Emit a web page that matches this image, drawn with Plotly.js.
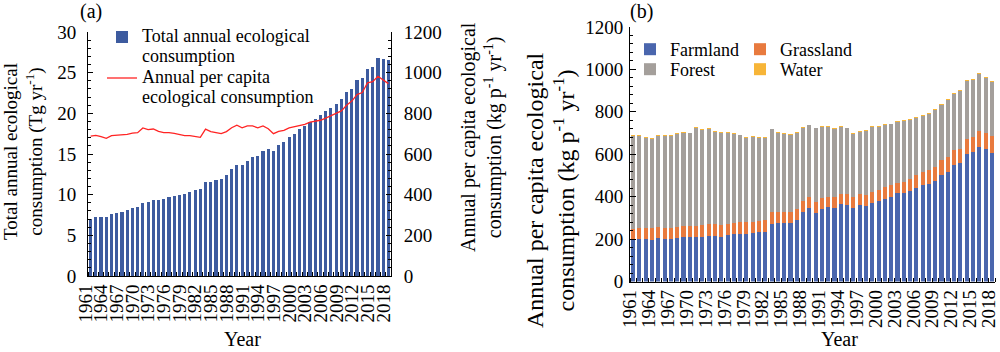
<!DOCTYPE html>
<html>
<head>
<meta charset="utf-8">
<script src="https://cdn.plot.ly/plotly-3.0.1.min.js"></script>
<style>html,body{margin:0;padding:0;background:#fff;}#chart{width:1000px;height:352px;}</style>
</head>
<body>
<div id="chart"></div>
<script>
var years = [1961,1962,1963,1964,1965,1966,1967,1968,1969,1970,
             1971,1972,1973,1974,1975,1976,1977,1978,1979,1980,
             1981,1982,1983,1984,1985,1986,1987,1988,1989,1990,
             1991,1992,1993,1994,1995,1996,1997,1998,1999,2000,
             2001,2002,2003,2004,2005,2006,2007,2008,2009,2010,
             2011,2012,2013,2014,2015,2016,2017,2018];
var tickYears = [1961,1964,1967,1970,1973,1976,1979,1982,1985,1988,1991,1994,1997,2000,2003,2006,2009,2012,2015,2018];

// (a) total annual ecological consumption, Tg/yr
var totalTg = [7.0,7.2,7.25,7.3,7.6,7.75,7.9,8.15,8.4,8.5,
               9.0,9.1,9.35,9.3,9.5,9.7,9.85,9.95,10.1,10.3,
               10.55,10.7,11.55,11.6,11.75,11.95,12.4,13.1,13.65,13.7,
               14.2,14.65,14.8,15.35,15.6,15.4,16.05,16.5,17.1,17.5,
               18.05,18.5,18.9,19.3,19.75,20.25,20.7,21.2,21.8,22.6,
               23.0,24.15,24.3,25.5,25.65,26.75,26.7,26.5];
// (a) annual per capita ecological consumption, kg/p/yr
var perCapita = [688,692,685,677,690,693,693,697,703,705,
                 728,720,723,711,705,705,701,697,690,690,
                 687,682,722,710,705,700,710,729,742,729,
                 738,738,729,738,724,700,711,716,728,733,
                 741,746,757,760,766,776,788,796,812,840,
                 860,892,902,950,956,982,966,946];
// (b) per capita by land type, kg/p/yr
var farmland = [197,200,201,198,206,202,201,206,211,211,
                211,210,215,215,211,217,222,225,224,227,
                233,234,273,276,276,276,291,328,345,322,
                341,353,348,365,362,348,360,358,372,378,
                391,400,415,415,426,441,454,459,476,500,
                514,550,557,602,612,635,624,605];
var grassland = [51,52,52,55,50,51,52,50,52,53,
                 53,56,55,57,57,55,53,56,55,55,
                 53,57,57,54,54,54,52,52,53,55,
                 52,47,49,47,50,49,53,50,51,53,
                 55,55,51,53,55,60,63,66,66,75,
                 71,68,69,69,69,76,74,79];
var forest = [438,435,426,418,431,434,434,438,437,434,
              459,448,449,432,432,428,419,408,400,400,
              393,385,387,371,366,360,358,345,338,345,
              337,330,323,316,310,297,293,304,305,297,
              292,286,287,288,280,270,265,265,265,259,
              270,268,270,273,270,267,261,256];
var water = [4,4,4,4,4,4,4,4,4,4,
             4,4,4,4,4,4,4,4,4,4,
             4,4,4,4,4,4,4,4,4,4,
             4,4,4,4,4,4,4,4,4,4,
             4,4,4,4,4,5,5,5,5,5,
             5,5,6,6,6,6,6,6];

var FONT = 'Liberation Serif, Times New Roman, serif';
function px(x){return x/1000;}
function py(y){return 1 - y/352;}

var traces = [
  {type:'bar', x:years, y:totalTg, xaxis:'x', yaxis:'y', width:0.6,
   name:'Total annual ecological<br>consumption', marker:{color:'#3d5b9f'}, legend:'legend'},
  {type:'scatter', mode:'lines', x:years, y:perCapita, xaxis:'x', yaxis:'y2',
   name:'Annual per capita<br>ecological consumption', line:{color:'#ff2424', width:1.3}, legend:'legend'},
  {type:'bar', x:years, y:farmland, xaxis:'x2', yaxis:'y3', width:0.65,
   name:'Farmland', marker:{color:'#4a66ad'}, legend:'legend2'},
  {type:'bar', x:years, y:grassland, xaxis:'x2', yaxis:'y3', width:0.65,
   name:'Grassland', marker:{color:'#e87a3e'}, legend:'legend3'},
  {type:'bar', x:years, y:forest, xaxis:'x2', yaxis:'y3', width:0.65,
   name:'Forest', marker:{color:'#a49f9b'}, legend:'legend4'},
  {type:'bar', x:years, y:water, xaxis:'x2', yaxis:'y3', width:0.65,
   name:'Water', marker:{color:'#f7b538'}, legend:'legend5'}
];

function xAxis(domain, anchor, shift){
  return {domain:domain, anchor:anchor, range:[1960.5,2018.5], tickmode:'array', tickvals:tickYears,
    ticktext:tickYears.map(String), tickangle:-90, ticks:'', showline:true, linecolor:'#000', linewidth:1,
    showgrid:false, zeroline:false, ticklabeloverflow:'allow', ticklabelshift:shift,
    tickfont:{family:FONT, size:19, color:'#000'},
    minor:{ticks:'inside', ticklen:4, tickcolor:'#000', tickmode:'linear', tick0:1960.5, dtick:1}};
}
function yAxis(domain, range, dtick, mdtick, extra){
  var a = {domain:domain, range:range, tickmode:'linear', tick0:0, dtick:dtick, ticks:'inside', ticklen:5,
    tickcolor:'#000', showline:true, linecolor:'#000', linewidth:1, showgrid:false, zeroline:false,
    ticklabeloverflow:'allow', tickfont:{family:FONT, size:19, color:'#000'},
    minor:{ticks:'inside', ticklen:3, tickcolor:'#000', dtick:mdtick}};
  for (var k in extra) a[k] = extra[k];
  return a;
}

var LEG_FS = 18;
var legFont = {family:FONT, size:LEG_FS, color:'#000'};
function smallLegend(x, yTop){
  return {x:px(x), y:py(yTop), xanchor:'left', yanchor:'top', orientation:'h', bgcolor:'rgba(0,0,0,0)',
    font:legFont, itemwidth:30};
}
var layout = {
  width:1000, height:352, margin:{l:0,r:0,t:0,b:0}, paper_bgcolor:'#fff', plot_bgcolor:'rgba(0,0,0,0)',
  barmode:'stack', font:{family:FONT, size:20, color:'#000'},
  xaxis: xAxis([px(88),px(391)], 'y', -5),
  yaxis: yAxis([py(276),py(32)], [0,30], 5, 1, {anchor:'x', ticklabelstandoff:7}),
  yaxis2: yAxis([py(276),py(32)], [0,1200], 200, 40, {anchor:'x', overlaying:'y', side:'right', ticklabelstandoff:8}),
  xaxis2: xAxis([px(630),px(995)], 'y3', -3),
  yaxis3: yAxis([py(281.5),py(27)], [0,1200], 200, 40, {anchor:'x2', ticklen:6, ticklabelstandoff:2}),
  legend:{x:px(102), y:py(20), xanchor:'left', yanchor:'top', bgcolor:'rgba(0,0,0,0)', traceorder:'normal',
    font:legFont, itemwidth:30, tracegroupgap:0},
  legend2: smallLegend(630, 31),
  legend3: smallLegend(740, 31),
  legend4: smallLegend(630, 51),
  legend5: smallLegend(740, 51),
  annotations:[
    {text:'(a)', x:px(91), y:py(11), xanchor:'center', yanchor:'middle', xref:'paper', yref:'paper', showarrow:false, font:{size:20}},
    {text:'(b)', x:px(641), y:py(11), xanchor:'center', yanchor:'middle', xref:'paper', yref:'paper', showarrow:false, font:{size:20}},
    {text:'Total annual ecological<br>consumption (Tg yr<sup>-1</sup>)', x:px(23), y:py(152), xanchor:'center', yanchor:'middle',
     xref:'paper', yref:'paper', showarrow:false, textangle:-90, font:{size:19}},
    {text:'Annual per capita ecological<br>consumption (kg p<sup>-1</sup> yr<sup>-1</sup>)', x:px(481), y:py(137), xanchor:'center', yanchor:'middle',
     xref:'paper', yref:'paper', showarrow:false, textangle:-90, font:{size:20}},
    {text:'Annual per capita ecological<br>consumption (kg p<sup>-1</sup> yr<sup>-1</sup>)', x:px(550), y:py(190), xanchor:'center', yanchor:'middle',
     xref:'paper', yref:'paper', showarrow:false, textangle:-90, font:{size:24}},
    {text:'Year', x:px(242), y:py(339), xanchor:'center', yanchor:'middle', xref:'paper', yref:'paper', showarrow:false, font:{size:20}},
    {text:'Year', x:px(839), y:py(339), xanchor:'center', yanchor:'middle', xref:'paper', yref:'paper', showarrow:false, font:{size:20}}
  ]
};

function parseTranslate(s){
  var m = /translate\(\s*([-\d.e]+)(?:[ ,]\s*([-\d.e]+))?/.exec(s || '');
  return m ? [parseFloat(m[1]), parseFloat(m[2] || 0)] : [0, 0];
}
function tweakLegends(gd){
  var fs = LEG_FS;
  // panel (a): compact two-line entries like the reference, wide flat bar key
  var leg = gd.querySelector('g.legend');
  if (leg) {
    var sb = leg.querySelector('.scrollbox');
    if (sb) sb.removeAttribute('clip-path');
    var items = leg.querySelectorAll('g.traces');
    var targets = [37, 78];
    for (var i = 0; i < items.length && i < targets.length; i++) {
      var it = items[i];
      var txt = it.querySelector('text.legendtext');
      if (txt) {
        var lines = txt.querySelectorAll('tspan.line');
        for (var n = 0; n < lines.length; n++) {
          lines[n].setAttribute('dy', (n * 1.11) + 'em');
          lines[n].setAttribute('y', 0.3 * fs);
        }
        txt.setAttribute('y', 0.3 * fs);
      }
      var cur = it.getCTM().f;
      var t = parseTranslate(it.getAttribute('transform'));
      it.setAttribute('transform', 'translate(' + t[0] + ',' + (t[1] + targets[i] - cur) + ')');
    }
    if (items[0]) {
      var bp = items[0].querySelectorAll('path.legendbar');
      for (var b = 0; b < bp.length; b++) bp[b].setAttribute('d', 'M15,2.8H-15V-2.8H15Z');
    }
  }
  // panel (b): small square keys close to the labels
  ['legend2','legend3','legend4','legend5'].forEach(function(id){
    var l = gd.querySelector('g.' + id);
    if (!l) return;
    var ps = l.querySelectorAll('path.legendbar');
    for (var k = 0; k < ps.length; k++) ps[k].setAttribute('d', 'M13,4H5V-4H13Z');
  });
}

Plotly.newPlot('chart', traces, layout, {displayModeBar:false, staticPlot:true}).then(function(gd){
  try { tweakLegends(gd); } catch (e) {}
});
</script>
</body>
</html>
